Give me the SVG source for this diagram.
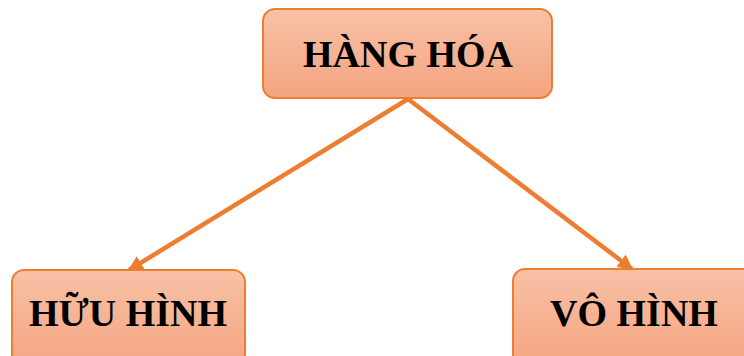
<svg xmlns="http://www.w3.org/2000/svg" width="744" height="356" viewBox="0 0 744 356">
<defs>
<linearGradient id="g" x1="0" y1="0" x2="0" y2="1">
<stop offset="0" stop-color="#F8C1A6"/>
<stop offset="1" stop-color="#F4A47F"/>
</linearGradient>
<marker id="ah" viewBox="0 0 10 10" refX="9" refY="5" markerWidth="3.4" markerHeight="3.4" orient="auto" markerUnits="strokeWidth">
<path d="M0,0 L10,5 L0,10 Z" fill="#ED7D31"/>
</marker>
<style>
.box{fill:url(#g);stroke:#ED7D31;stroke-width:2}
.lbl{font-family:"Liberation Serif","Times New Roman",serif;font-weight:bold;font-size:38px;fill:#000;text-anchor:middle}
.con{stroke:#ED7D31;stroke-width:4.5;fill:none;marker-end:url(#ah)}
</style>
</defs>
<rect width="744" height="356" fill="#fff"/>
<g id="connectors">
<line class="con" x1="408" y1="99" x2="129" y2="270"/>
<line class="con" x1="408" y1="99" x2="632" y2="269"/>
</g>
<g id="hang-hoa">
<rect class="box" x="263" y="9" width="289" height="89" rx="12"/>
<text class="lbl" x="408" y="67">HÀNG HÓA</text>
</g>
<g id="huu-hinh">
<rect class="box" x="12" y="270" width="233" height="100" rx="12"/>
<text class="lbl" x="128" y="326">HỮU HÌNH</text>
</g>
<g id="vo-hinh">
<rect class="box" x="513" y="269" width="242" height="100" rx="12"/>
<text class="lbl" x="634" y="326">VÔ HÌNH</text>
</g>
</svg>
